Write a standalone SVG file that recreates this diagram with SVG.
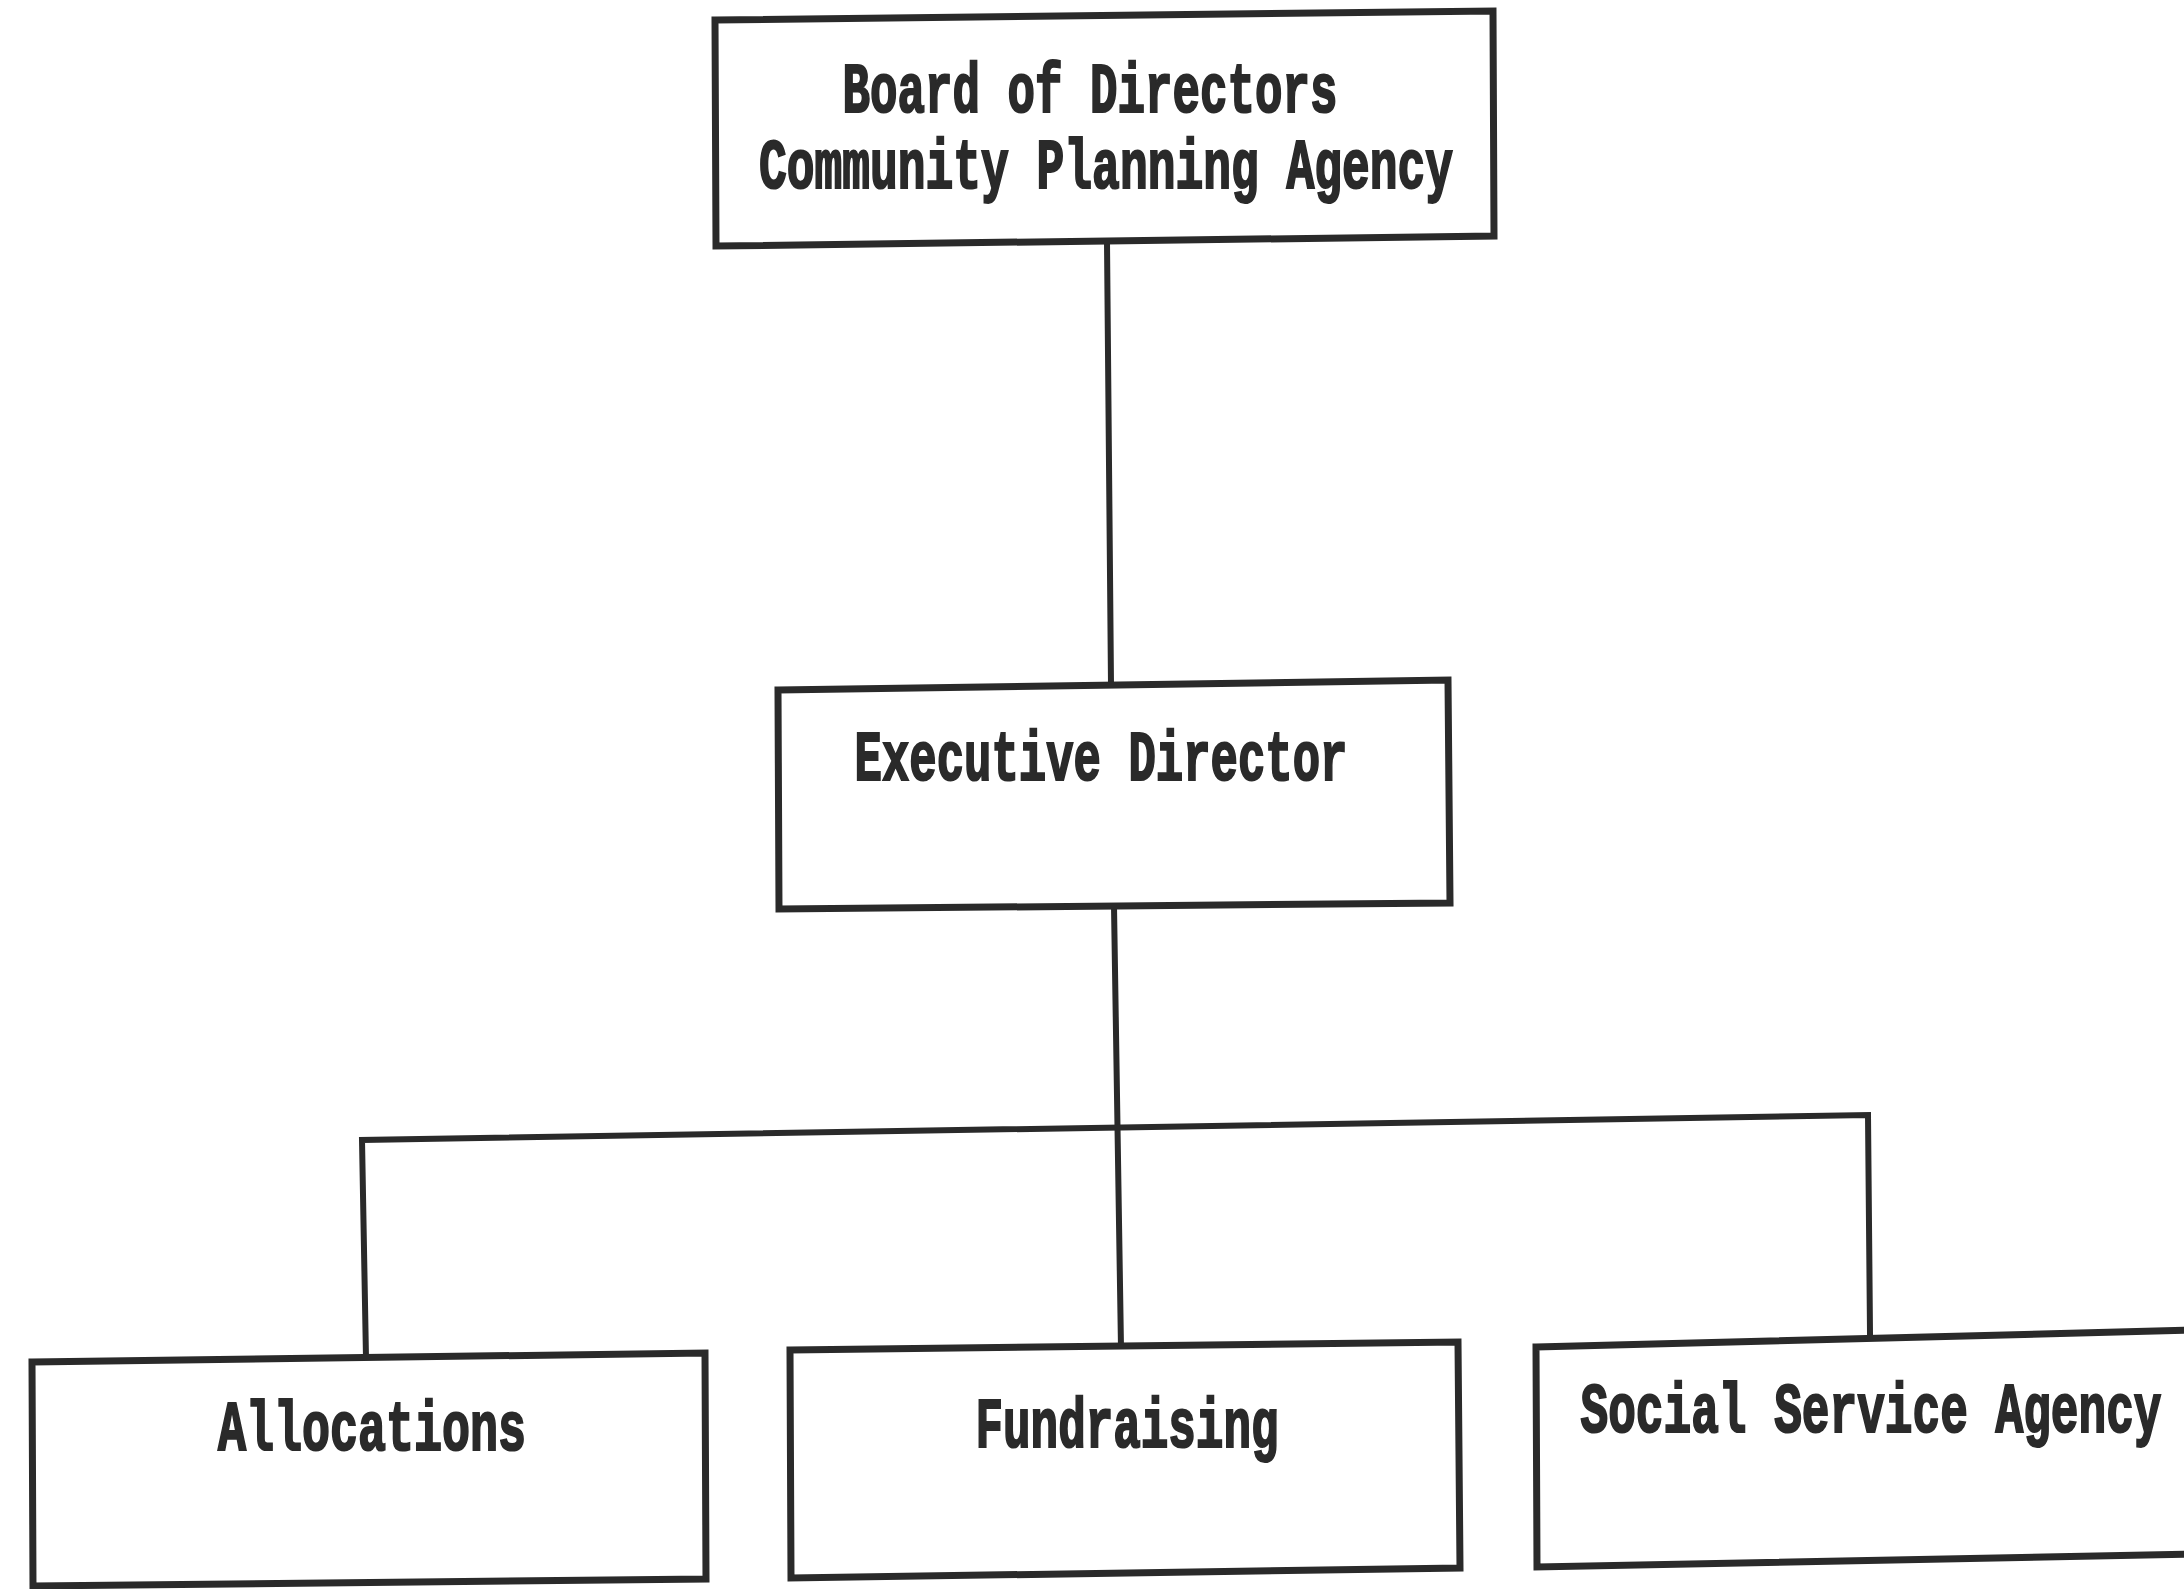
<svg xmlns="http://www.w3.org/2000/svg" width="2184" height="1589" viewBox="0 0 2184 1589">
<style>
.box{fill:#ffffff;stroke:#2a2a2a;stroke-width:7;stroke-linejoin:miter}
.con{fill:none;stroke:#2a2a2a;stroke-width:6;stroke-linecap:square}
.lbl{font-family:"Liberation Mono","Courier New",monospace;font-weight:bold;font-size:46px;fill:#2a2a2a;stroke:#2a2a2a;stroke-width:1.4;text-anchor:middle}
</style>
<rect x="0" y="0" width="2184" height="1589" fill="#ffffff"/>
<g id="connectors">
<path class="con" d="M1107,242 L1111,684"/>
<path class="con" d="M1114,906 L1121,1348"/>
<path class="con" d="M366,1358 L362,1140 L1868,1115 L1870,1333"/>
</g>
<g id="board">
<polygon class="box" points="715,20 1493,11 1494,236 716,246"/>
<g transform="translate(1090,112) scale(1,1.55)"><text class="lbl" x="0" y="0" textLength="495" lengthAdjust="spacingAndGlyphs">Board of Directors</text></g>
<g transform="translate(1106,188) scale(1,1.55)"><text class="lbl" x="0" y="0" textLength="694" lengthAdjust="spacingAndGlyphs">Community Planning Agency</text></g>
</g>
<g id="executive">
<polygon class="box" points="778,690 1448,680 1450,903 779,909"/>
<g transform="translate(1101,780) scale(1,1.55)"><text class="lbl" x="0" y="0" textLength="493" lengthAdjust="spacingAndGlyphs">Executive Director</text></g>
</g>
<g id="allocations">
<polygon class="box" points="32,1362 705,1353 706,1579 33,1586"/>
<g transform="translate(372,1450) scale(1,1.55)"><text class="lbl" x="0" y="0" textLength="308" lengthAdjust="spacingAndGlyphs">Allocations</text></g>
</g>
<g id="fundraising">
<polygon class="box" points="790,1350 1458,1342 1460,1568 791,1578"/>
<g transform="translate(1127,1447) scale(1,1.55)"><text class="lbl" x="0" y="0" textLength="303" lengthAdjust="spacingAndGlyphs">Fundraising</text></g>
</g>
<g id="social">
<polygon class="box" points="1536,1347 2195,1330 2196,1554 1537,1567"/>
<g transform="translate(1871,1432) scale(1,1.55)"><text class="lbl" x="0" y="0" textLength="581" lengthAdjust="spacingAndGlyphs">Social Service Agency</text></g>
</g>
</svg>
